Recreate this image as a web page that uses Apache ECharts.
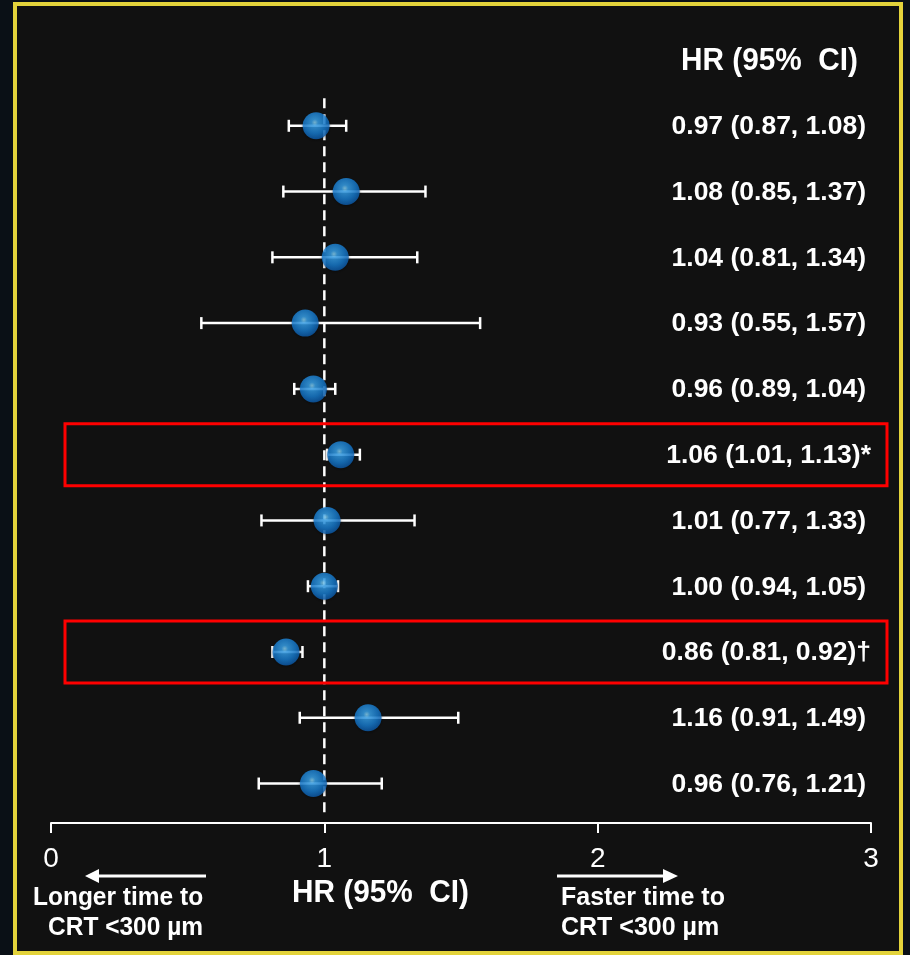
<!DOCTYPE html>
<html>
<head>
<meta charset="utf-8">
<script src="https://cdn.jsdelivr.net/npm/echarts@6/dist/echarts.min.js"></script>
<style>
  html, body { margin: 0; padding: 0; background: #0a1016; }
  #chart { width: 910px; height: 955px; }
</style>
</head>
<body>
<div id="chart"></div>
<script>
// forest plot data, top row first
const hr = [0.97, 1.08, 1.04, 0.93, 0.96, 1.06, 1.01, 1.00, 0.86, 1.16, 0.96];
const ciLow = [0.87, 0.85, 0.81, 0.55, 0.89, 1.01, 0.77, 0.94, 0.81, 0.91, 0.76];
const ciHigh = [1.08, 1.37, 1.34, 1.57, 1.04, 1.13, 1.33, 1.05, 0.92, 1.49, 1.21];
const marks = ['', '', '', '', '', '*', '', '', '†', '', ''];
const highlighted = [5, 8];
const xTicks = [0, 1, 2, 3];

const fontSans = "'Liberation Sans', Arial, sans-serif";

const rows = hr.map((v, i) => i + 1);
const fmt = v => v.toFixed(2);

const chart = echarts.init(document.getElementById('chart'));

const ball = new echarts.graphic.RadialGradient(0.45, 0.38, 0.68, [
  { offset: 0, color: '#8fdcff' },
  { offset: 0.18, color: '#3aa8f4' },
  { offset: 0.6, color: '#1880d6' },
  { offset: 0.88, color: '#0d5fb0' },
  { offset: 1, color: '#08498c' }
]);

// scaled text label, (x, y) = anchor point
function label(text, x, y, size, sx, align) {
  return {
    type: 'text', x: x, y: y, scaleX: sx,
    style: {
      text: text, x: 0, y: 0, align: align || 'left', verticalAlign: 'middle',
      fill: '#fff', font: 'bold ' + size + 'px ' + fontSans
    }
  };
}

chart.setOption({
  backgroundColor: '#0a1016',
  animation: false,
  graphic: [
    {
      type: 'rect', z: -10,
      shape: { x: 15, y: 4, width: 886, height: 949 },
      style: { fill: '#111111', stroke: '#e3d33b', lineWidth: 4 }
    },
    label('HR (95%  CI)', 858, 61, 31, 0.96, 'right'),
    label('HR (95%  CI)', 292, 893, 31, 0.96, 'left'),
    // left arrow
    { type: 'line', shape: { x1: 206, y1: 876, x2: 98, y2: 876 }, style: { stroke: '#fff', lineWidth: 3 } },
    { type: 'polygon', shape: { points: [[85, 876], [99, 869], [99, 883]] }, style: { fill: '#fff' } },
    // right arrow
    { type: 'line', shape: { x1: 557, y1: 876, x2: 664, y2: 876 }, style: { stroke: '#fff', lineWidth: 3 } },
    { type: 'polygon', shape: { points: [[678, 876], [663, 869], [663, 883]] }, style: { fill: '#fff' } },
    label('Longer time to', 33, 898, 25, 0.98),
    label('CRT <300 µm', 48, 928, 25, 0.98),
    label('Faster time to', 561, 898, 25, 1.0),
    label('CRT <300 µm', 561, 928, 25, 1.0)
  ],
  grid: { left: 51, right: 39, top: 60, bottom: 132 },
  xAxis: {
    type: 'value', min: 0, max: 3, interval: 1, position: 'bottom',
    axisLine: { show: true, onZero: false, lineStyle: { color: '#fff', width: 2 } },
    axisTick: { show: true, length: 10, lineStyle: { color: '#fff', width: 2 } },
    axisLabel: {
      color: '#fff', fontSize: 28, margin: 22, fontFamily: fontSans,
      formatter: v => xTicks.includes(v) ? String(v) : ''
    },
    splitLine: { show: false }
  },
  yAxis: {
    type: 'value', min: 0, max: 11.6, inverse: true, show: false
  },
  series: [
    {
      type: 'line',
      data: [[1, 0.58], [1, 11.5]],
      symbol: 'none',
      lineStyle: { color: '#fff', width: 2.5, type: [10, 6] },
      z: 1
    },
    {
      type: 'custom',
      z: 2,
      data: rows.map((r, i) => [ciLow[i], ciHigh[i], r, i]),
      renderItem(params, api) {
        const lo = api.coord([api.value(0), api.value(2)]);
        const hi = api.coord([api.value(1), api.value(2)]);
        const i = api.value(3);
        const y = lo[1];
        const cap = 6;
        const st = { stroke: '#fff', lineWidth: 2.5 };
        const children = [
          { type: 'line', shape: { x1: lo[0], y1: y, x2: hi[0], y2: y }, style: st },
          { type: 'line', shape: { x1: lo[0], y1: y - cap, x2: lo[0], y2: y + cap }, style: st },
          { type: 'line', shape: { x1: hi[0], y1: y - cap, x2: hi[0], y2: y + cap }, style: st },
          {
            type: 'text', style: {
              text: fmt(hr[i]) + ' (' + fmt(ciLow[i]) + ', ' + fmt(ciHigh[i]) + ')' + marks[i],
              x: 866 + (marks[i] ? 5 : 0), y: y + 1, align: 'right', verticalAlign: 'middle',
              fill: '#fff', font: 'bold 26.5px ' + fontSans
            }
          }
        ];
        if (highlighted.includes(i)) {
          children.push({
            type: 'rect', shape: { x: 65, y: y - 31, width: 822, height: 62 },
            style: { fill: 'none', stroke: '#ff0000', lineWidth: 3 }
          });
        }
        return { type: 'group', children };
      }
    },
    {
      type: 'scatter',
      z: 3,
      data: rows.map((r, i) => [hr[i], r]),
      symbol: 'circle',
      symbolSize: 27,
      itemStyle: { color: ball, shadowColor: 'rgba(0,0,0,0.5)', shadowBlur: 3, shadowOffsetY: 1 }
    }
  ]
});
</script>
</body>
</html>
